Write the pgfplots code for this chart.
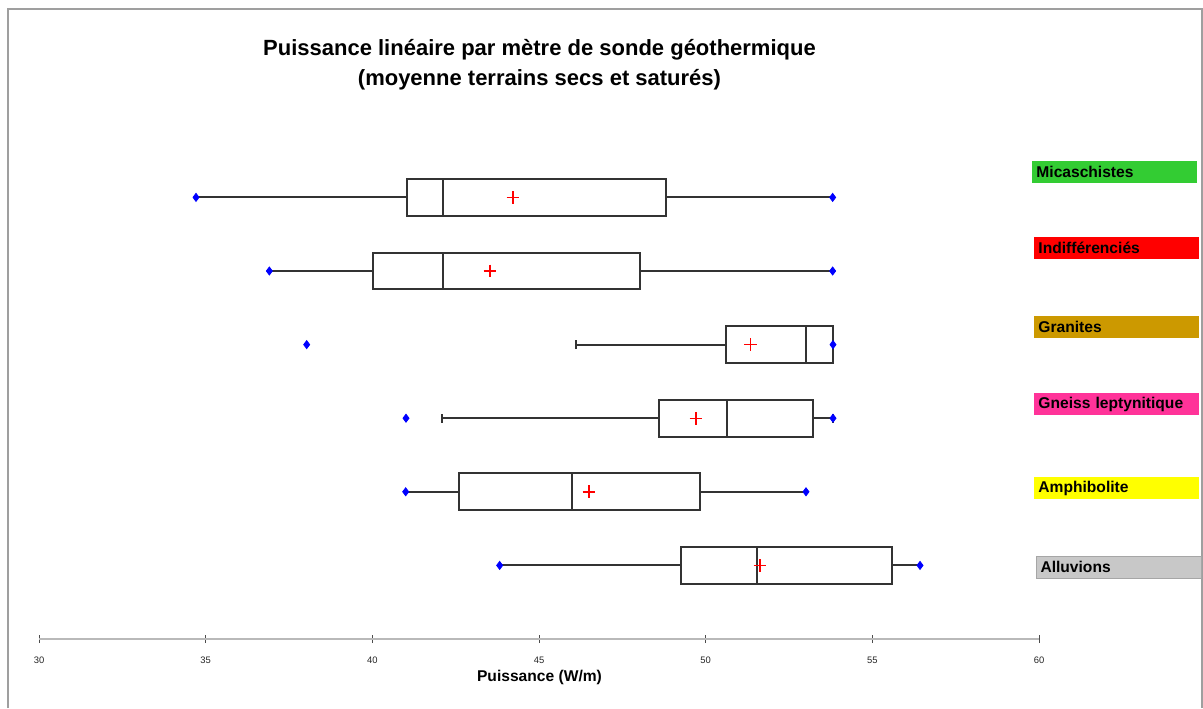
\documentclass[border=0pt]{standalone}
\usepackage{fontspec}
\setmainfont{Liberation Sans}
\usepackage{pgfplots}
\pgfplotsset{compat=1.18}
\usepgfplotslibrary{statistics}
\definecolor{cgreen}{HTML}{33CC33}
\definecolor{cred}{HTML}{FF0000}
\definecolor{cgold}{HTML}{CC9900}
\definecolor{cpink}{HTML}{FF3399}
\definecolor{cyellow}{HTML}{FFFF00}
\definecolor{cgray}{HTML}{C8C8C8}
\definecolor{boxline}{HTML}{333333}
\begin{document}
\begin{tikzpicture}
\useasboundingbox (0,0) rectangle (601.5pt,354pt);
\fill[white] (0,0) rectangle (601.5pt,354pt);
\draw[gray!75, line width=1pt] (4pt,0) -- (4pt,349.5pt) -- (600.75pt,349.5pt) -- (600.75pt,0);
\begin{axis}[
  at={(19.5pt,34.5pt)}, anchor=south west,
  scale only axis, width=500pt, height=257.6pt,
  xmin=30, xmax=60, ymin=0, ymax=7,
  axis y line=none, axis x line=bottom,
  x axis line style={draw=gray!55, line width=1pt, -},
  xtick={30,35,...,60}, minor xtick={},
  major tick length=4pt, tick align=center,
  xtick style={draw=black!70, line width=0.5pt},
  xticklabel style={font=\fontsize{4.7}{5.5}\selectfont, text=black!85, yshift=-3.6pt},
  /pgf/number format/assume math mode=true,
  clip=false,
  boxplot/box extend=0.5,
  every boxplot/.style={draw=boxline, line width=1pt, solid, mark=none},
]
% Micaschistes
\addplot[boxplot prepared={lower whisker=34.71, lower quartile=41.03, median=42.13, upper quartile=48.81, upper whisker=53.81, draw position=6, whisker extend=0}] coordinates {};
% Indifferencies
\addplot[boxplot prepared={lower whisker=36.91, lower quartile=40.01, median=42.13, upper quartile=48.03, upper whisker=53.81, draw position=5, whisker extend=0}] coordinates {};
% Granites
\addplot[boxplot prepared={lower whisker=46.11, lower quartile=50.60, median=53.01, upper quartile=53.82, upper whisker=53.82, draw position=4, whisker extend=0.12}] coordinates {};
% Gneiss
\addplot[boxplot prepared={lower whisker=42.10, lower quartile=48.60, median=50.63, upper quartile=53.22, upper whisker=53.82, draw position=3, whisker extend=0.12}] coordinates {};
% Amphibolite
\addplot[boxplot prepared={lower whisker=41.00, lower quartile=42.60, median=45.98, upper quartile=49.83, upper whisker=53.01, draw position=2, whisker extend=0}] coordinates {};
% Alluvions
\addplot[boxplot prepared={lower whisker=43.82, lower quartile=49.25, median=51.53, upper quartile=55.60, upper whisker=56.43, draw position=1, whisker extend=0}] coordinates {};
% minima / maxima
\addplot[only marks, mark=diamond*, mark size=2pt, color=blue] coordinates {
 (34.71,6) (53.81,6) (36.91,5) (53.81,5) (38.03,4) (53.82,4)
 (41.01,3) (53.82,3) (41.00,2) (53.01,2) (43.82,1) (56.43,1)};
% means
\addplot[only marks, mark=+, mark size=3.2pt, color=red, line width=0.7pt] coordinates {
 (44.22,6) (43.53,5) (51.35,4) (49.71,3) (46.50,2) (51.63,1)};
\end{axis}
% title
\node[align=center, font=\fontsize{11}{15}\selectfont\bfseries] at (269.75pt,321.5pt)
  {Puissance linéaire par mètre de sonde géothermique\\(moyenne terrains secs et saturés)};
\node[font=\fontsize{7.8}{9}\selectfont\bfseries] at (269.75pt,15.5pt) {Puissance (W/m)};
% category labels
\tikzset{lab/.style={anchor=west, minimum width=82.5pt, minimum height=11pt, inner xsep=2pt, inner ysep=0pt, text width=78.5pt, align=left, font=\fontsize{7.8}{9}\selectfont\bfseries}}
\node[lab, fill=cgreen] at (516pt,268pt) {Micaschistes};
\node[lab, fill=cred] at (517pt,230pt) {Indifférenciés};
\node[lab, fill=cgold] at (517pt,190.5pt) {Granites};
\node[lab, fill=cpink] at (517pt,152pt) {Gneiss leptynitique};
\node[lab, fill=cyellow] at (517pt,110pt) {Amphibolite};
\node[lab, fill=cgray, draw=gray!70, line width=0.5pt] at (518pt,70.5pt) {Alluvions};
\end{tikzpicture}
\end{document}
